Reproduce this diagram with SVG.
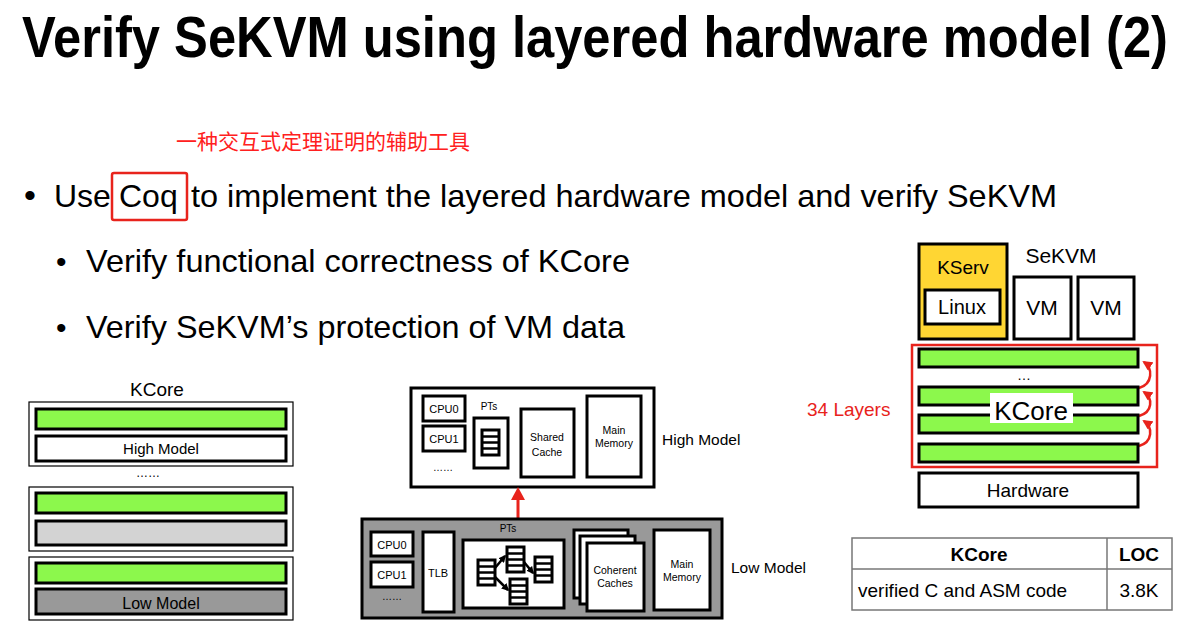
<svg xmlns="http://www.w3.org/2000/svg" width="1188" height="634" viewBox="0 0 1188 634">
<defs>
<style>
text{font-family:"Liberation Sans",Arial,sans-serif;fill:#000}
.green{fill:#8CF84C;stroke:#000;stroke-width:3}
.thick{fill:#fff;stroke:#000;stroke-width:3}
.thin{fill:#fff;stroke:#000;stroke-width:1.2}
.red{fill:none;stroke:#E8231C;stroke-width:2.5}
.c{text-anchor:middle}
</style>
<marker id="ah" viewBox="0 0 10 10" refX="8" refY="5" markerWidth="4" markerHeight="4" orient="auto" markerUnits="strokeWidth">
<path d="M0,0 L10,5 L0,10 z" fill="#E8231C"/>
</marker>
<marker id="bk" viewBox="0 0 10 10" refX="8" refY="5" markerWidth="3" markerHeight="3" orient="auto" markerUnits="strokeWidth">
<path d="M0,0 L10,5 L0,10 z" fill="#000"/>
</marker>
<g id="lst">
<rect x="0" y="0" width="17" height="25" fill="#fff" stroke="#000" stroke-width="3"/>
<line x1="0" y1="6.5" x2="17" y2="6.5" stroke="#000" stroke-width="2.5"/>
<line x1="0" y1="12.5" x2="17" y2="12.5" stroke="#000" stroke-width="2.5"/>
<line x1="0" y1="18.5" x2="17" y2="18.5" stroke="#000" stroke-width="2.5"/>
</g>
</defs>
<rect width="1188" height="634" fill="#fff"/>

<g id="title">
<text transform="translate(22,57) scale(1,1.14)" x="0" y="0" font-size="50" font-weight="bold" textLength="1146" lengthAdjust="spacingAndGlyphs">Verify SeKVM using layered hardware model (2)</text>
</g>

<g id="bullets">
<text x="176" y="149" font-size="21" style="fill:#FF2020;font-family:'Noto Sans CJK SC',sans-serif" textLength="294" lengthAdjust="spacingAndGlyphs">一种交互式定理证明的辅助工具</text>
<text x="24" y="207" font-size="34">•</text>
<text x="54" y="207" font-size="32">Use</text>
<rect x="112" y="173" width="75" height="47" rx="2" fill="none" stroke="#E8231C" stroke-width="2.5"/>
<text x="119" y="207" font-size="32">Coq</text>
<text x="191" y="207" font-size="32" textLength="866" lengthAdjust="spacingAndGlyphs">to implement the layered hardware model and verify SeKVM</text>
<text x="56" y="272" font-size="30">•</text>
<text x="86" y="272" font-size="32" textLength="544" lengthAdjust="spacingAndGlyphs">Verify functional correctness of KCore</text>
<text x="56" y="338" font-size="30">•</text>
<text x="86" y="338" font-size="32" textLength="539" lengthAdjust="spacingAndGlyphs">Verify SeKVM’s protection of VM data</text>
</g>

<g id="left-kcore">
<text x="157" y="396" font-size="19" class="c">KCore</text>
<rect class="thin" x="29" y="402" width="264" height="64"/>
<rect class="green" x="36" y="409" width="250" height="20"/>
<rect class="thick" x="36" y="436" width="250" height="25"/>
<text x="161" y="454" font-size="15" class="c">High Model</text>
<text x="148" y="477" font-size="12" class="c">……</text>
<rect class="thin" x="29" y="487" width="264" height="64"/>
<rect class="green" x="36" y="493" width="250" height="20"/>
<rect x="36" y="521" width="250" height="24" fill="#D3D3D3" stroke="#000" stroke-width="3"/>
<rect class="thin" x="29" y="557" width="264" height="63"/>
<rect class="green" x="36" y="563" width="250" height="20"/>
<rect x="36" y="589" width="250" height="25" fill="#999" stroke="#000" stroke-width="3"/>
<text x="161" y="609" font-size="16" class="c">Low Model</text>
</g>

<g id="high-model">
<rect class="thick" x="411" y="388" width="243" height="99"/>
<rect class="thick" x="423" y="396" width="42" height="25"/>
<text x="444" y="413" font-size="11" class="c">CPU0</text>
<rect class="thick" x="423" y="426" width="42" height="25"/>
<text x="444" y="443" font-size="11" class="c">CPU1</text>
<text x="443" y="471" font-size="10" class="c">……</text>
<text x="489" y="410" font-size="10" class="c">PTs</text>
<rect class="thick" x="474" y="418" width="34" height="50"/>
<use href="#lst" x="482" y="430"/>
<rect class="thick" x="521" y="409" width="53" height="68"/>
<text x="547" y="441" font-size="10.5" class="c">Shared</text>
<text x="547" y="456" font-size="10.5" class="c">Cache</text>
<rect class="thick" x="587" y="396" width="54" height="81"/>
<text x="614" y="434" font-size="10.5" class="c">Main</text>
<text x="614" y="447" font-size="10.5" class="c">Memory</text>
<text x="662" y="445" font-size="15.5">High Model</text>
</g>

<g id="connectors">
<line x1="518" y1="519" x2="518" y2="497" stroke="#E8231C" stroke-width="3"/>
<path d="M511,500 L518,487 L525,500 z" fill="#E8231C"/>
<path class="red" d="M1139,388 C1153,384 1153,368 1144,362" marker-end="url(#ah)"/>
<path class="red" d="M1139,416 C1153,412 1153,398 1144,392" marker-end="url(#ah)"/>
<path class="red" d="M1139,446 C1153,442 1153,427 1144,421" marker-end="url(#ah)"/>
</g>

<g id="low-model">
<rect x="362" y="519" width="360" height="99" fill="#999" stroke="#000" stroke-width="3"/>
<rect class="thick" x="371" y="532" width="42" height="24"/>
<text x="392" y="549" font-size="11" class="c">CPU0</text>
<rect class="thick" x="371" y="562" width="42" height="25"/>
<text x="392" y="579" font-size="11" class="c">CPU1</text>
<text x="392" y="600" font-size="10" class="c">……</text>
<rect class="thick" x="423" y="532" width="31" height="80"/>
<text x="438" y="577" font-size="11" class="c">TLB</text>
<text x="508" y="532" font-size="10" class="c">PTs</text>
<rect class="thick" x="463" y="540" width="101" height="68"/>
<use href="#lst" x="478" y="560"/>
<use href="#lst" x="507" y="547"/>
<use href="#lst" x="535" y="557"/>
<use href="#lst" x="510" y="579"/>
<line x1="495" y1="568" x2="505" y2="556" stroke="#000" stroke-width="2.5" marker-end="url(#bk)"/>
<line x1="495" y1="577" x2="508" y2="590" stroke="#000" stroke-width="2.5" marker-end="url(#bk)"/>
<line x1="524" y1="562" x2="533" y2="573" stroke="#000" stroke-width="2.5" marker-end="url(#bk)"/>
<rect class="thick" x="574" y="530" width="54" height="68"/>
<rect class="thick" x="580" y="536" width="55" height="68"/>
<rect class="thick" x="587" y="543" width="57" height="68"/>
<text x="615" y="574" font-size="10.5" class="c">Coherent</text>
<text x="615" y="587" font-size="10.5" class="c">Caches</text>
<rect class="thick" x="654" y="530" width="56" height="80"/>
<text x="682" y="568" font-size="10.5" class="c">Main</text>
<text x="682" y="581" font-size="10.5" class="c">Memory</text>
<text x="731" y="573" font-size="15.5">Low Model</text>
</g>

<g id="sekvm">
<rect x="919" y="244" width="88" height="95" fill="#FFD633" stroke="#000" stroke-width="3"/>
<text x="963" y="274" font-size="19" class="c">KServ</text>
<rect class="thick" x="925" y="290" width="75" height="34"/>
<text x="962" y="314" font-size="20" class="c">Linux</text>
<text x="1061" y="263" font-size="21" class="c">SeKVM</text>
<rect class="thick" x="1014" y="277" width="57" height="62"/>
<text x="1042" y="315" font-size="21" class="c">VM</text>
<rect class="thick" x="1078" y="277" width="56" height="62"/>
<text x="1106" y="315" font-size="21" class="c">VM</text>
<rect x="912" y="345" width="245" height="122" fill="none" stroke="#E8231C" stroke-width="2.5"/>
<rect class="green" x="919" y="349" width="219" height="18"/>
<text x="1024" y="380" font-size="14" class="c">…</text>
<rect class="green" x="919" y="387" width="219" height="18"/>
<rect class="green" x="919" y="415" width="219" height="18"/>
<rect class="green" x="919" y="444" width="219" height="18"/>
<rect x="990" y="393" width="83" height="30" fill="#fff"/>
<text x="1031" y="420" font-size="26" class="c">KCore</text>
<text x="807" y="416" font-size="19" style="fill:#E8231C">34 Layers</text>
<rect class="thick" x="919" y="473" width="219" height="34"/>
<text x="1028" y="497" font-size="19" class="c">Hardware</text>
</g>

<g id="loc-table">
<rect x="852" y="538" width="320" height="72" fill="#fff" stroke="#777" stroke-width="1.5"/>
<line x1="852" y1="569" x2="1172" y2="569" stroke="#777" stroke-width="1.5"/>
<line x1="1107" y1="538" x2="1107" y2="610" stroke="#777" stroke-width="1.5"/>
<text x="979" y="561" font-size="19" font-weight="bold" class="c">KCore</text>
<text x="1139" y="561" font-size="19" font-weight="bold" class="c">LOC</text>
<text x="858" y="597" font-size="19">verified C and ASM code</text>
<text x="1139" y="597" font-size="19" class="c">3.8K</text>
</g>
</svg>
